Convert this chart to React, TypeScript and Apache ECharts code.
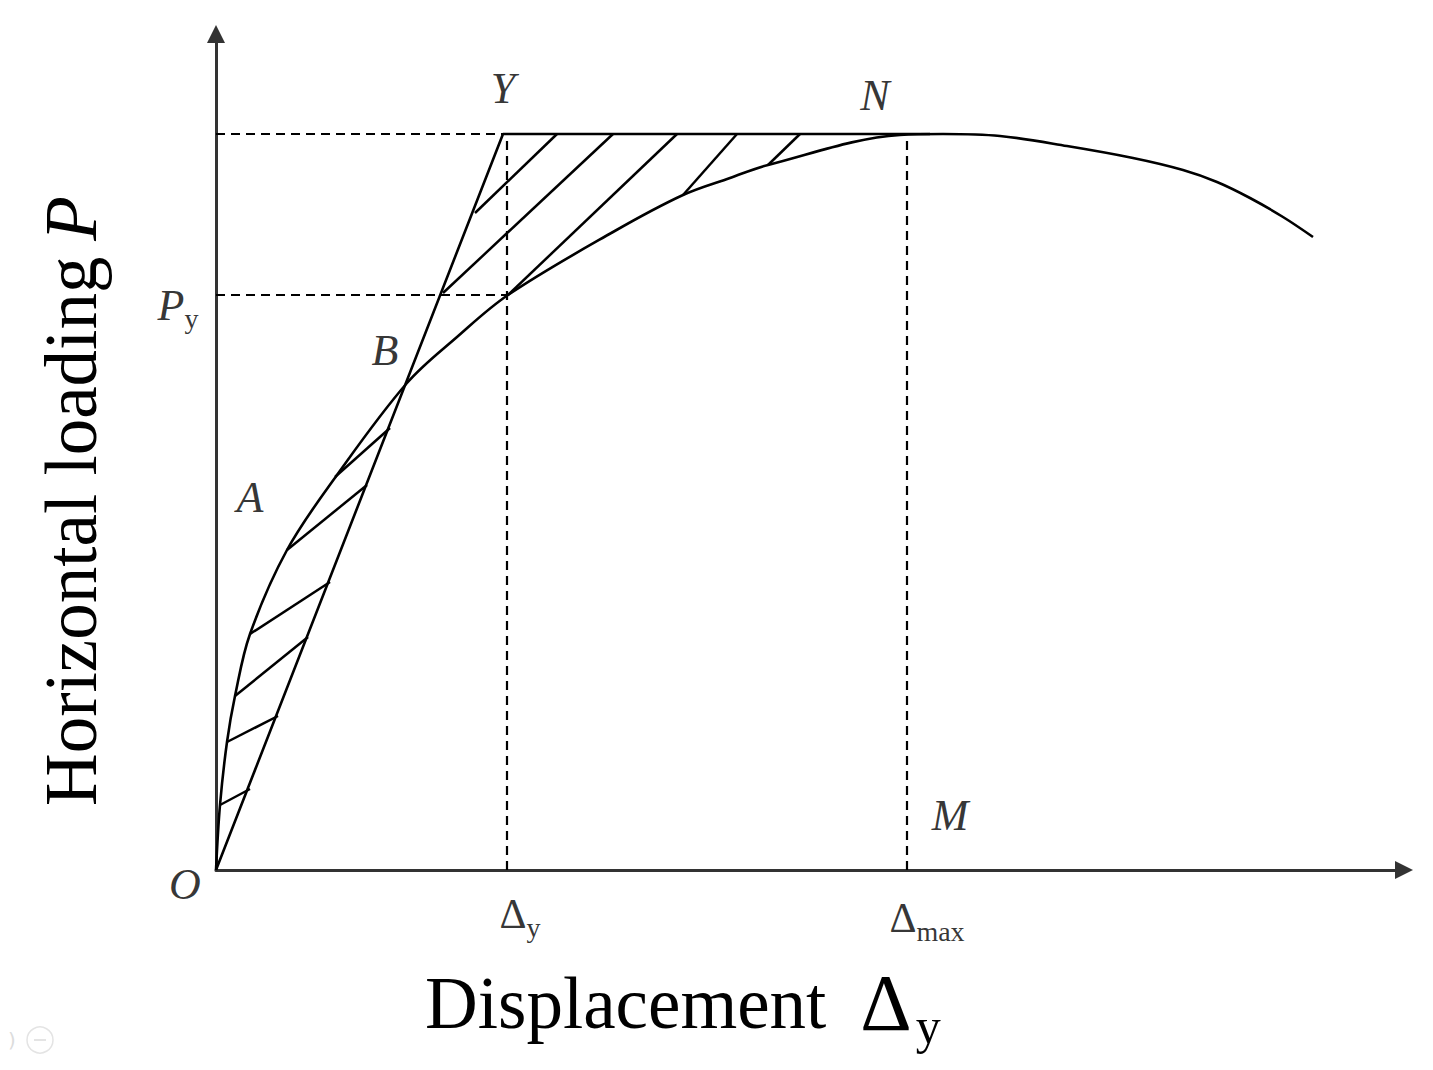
import React, { useEffect, useRef } from "react";
import * as echarts from "echarts";

// ---- data (schematic units: displacement along x, load along y) ----
const curveX = [0, 4, 11, 19, 34, 71, 121, 191, 241, 292, 397, 467, 514, 552, 684, 727, 784, 851, 917, 967, 1001, 1034, 1067, 1097];
const curveY = [0, 65, 128, 174, 236, 320, 395, 487, 533, 575, 638, 675, 692, 705, 735, 736, 734, 724, 712, 700, 688, 672, 653, 633];

// idealised bilinear line O -> Y -> N
const idealX = [0, 287, 714];
const idealY = [0, 736, 736];

const peakLoad = 736;
const yieldLoad = 575;
const yPointDisp = 287;
const yieldDisp = 291;
const maxDisp = 691;

// hatch segments [x1, y1, x2, y2]
const hatchLower = [
  [4, 65, 34, 81],
  [11, 128, 62, 154],
  [19, 174, 92, 233],
  [34, 236, 114, 288],
  [71, 320, 151, 385],
  [119, 393, 174, 442],
];
const hatchUpper = [
  [259, 657, 341, 736],
  [227, 577, 397, 736],
  [292, 575, 461, 736],
  [467, 675, 521, 736],
  [552, 705, 584, 736],
];

// point annotations
const labelTexts = ["{it|Y}", "{it|N}", "{it|B}", "{it|A}", "{it|O}", "{it|M}", "{it|P}{sub|y}", "{up|Δ}{sub|y}", "{up|Δ}{sub|max}"];
const labelAnchors = [
  [287, 736],
  [691, 736],
  [191, 487],
  [71, 320],
  [0, 0],
  [691, 0],
  [0, 575],
  [291, 0],
  [691, 0],
];

const xTitle = "Displacement";
const yTitle = "Horizontal loading";

// ---- styles ----
const FONT = '"Liberation Serif", "Times New Roman", serif';
const labelOffsets = [
  [0, -46],
  [-32, -39],
  [-22, -33],
  [-37, -53],
  [-31, 14],
  [43, -55],
  [-38, 10],
  [13, 44],
  [20, 48],
];

export default function App() {
  const ref = useRef<HTMLDivElement>(null);
  useEffect(() => {
    const chart = echarts.init(ref.current!, undefined, { renderer: "svg" });
    const seg = (s: number[]) => ({ coords: [[s[0], s[1]], [s[2], s[3]]] });
    const dashed = [
      [0, peakLoad, yPointDisp, peakLoad],
      [0, yieldLoad, yieldDisp, yieldLoad],
      [yieldDisp, 0, yieldDisp, peakLoad],
      [maxDisp, 0, maxDisp, peakLoad],
    ];
    const rich = {
      it: { fontFamily: FONT, fontStyle: "italic", fontSize: 44, color: "#000" },
      up: { fontFamily: FONT, fontSize: 42, color: "#000" },
      sub: { fontFamily: FONT, fontSize: 28, color: "#000", padding: [26, 0, 0, 0] },
    };
    const option = {
      animation: false,
      backgroundColor: "#fff",
      grid: { left: 216, right: 29, top: 34, bottom: 200 },
      xAxis: {
        type: "value",
        min: 0,
        max: 1188,
        axisLine: {
          show: true,
          symbol: ["none", "triangle"],
          symbolSize: [18, 18],
          lineStyle: { color: "#333", width: 3 },
        },
        axisTick: { show: false },
        axisLabel: { show: false },
        splitLine: { show: false },
      },
      yAxis: {
        type: "value",
        min: 0,
        max: 836,
        axisLine: {
          show: true,
          symbol: ["none", "triangle"],
          symbolSize: [18, 18],
          lineStyle: { color: "#333", width: 3 },
        },
        axisTick: { show: false },
        axisLabel: { show: false },
        splitLine: { show: false },
      },
      series: [
        {
          type: "line",
          silent: true,
          data: curveX.map((x, i) => [x, curveY[i]]),
          smooth: 0.35,
          symbol: "none",
          lineStyle: { color: "#000", width: 2.6 },
        },
        {
          type: "line",
          silent: true,
          data: idealX.map((x, i) => [x, idealY[i]]),
          symbol: "none",
          lineStyle: { color: "#000", width: 2.6 },
        },
        {
          type: "lines",
          coordinateSystem: "cartesian2d",
          silent: true,
          data: dashed.map(seg),
          lineStyle: { color: "#000", width: 2.2, type: [9, 6], opacity: 1 },
        },
        {
          type: "lines",
          coordinateSystem: "cartesian2d",
          silent: true,
          data: hatchLower.concat(hatchUpper).map(seg),
          lineStyle: { color: "#000", width: 2.5, opacity: 1 },
        },
        {
          type: "scatter",
          silent: true,
          symbolSize: 1,
          itemStyle: { color: "rgba(0,0,0,0)" },
          data: labelAnchors.map((a, i) => ({
            value: a,
            label: {
              show: true,
              position: "inside",
              formatter: labelTexts[i],
              offset: labelOffsets[i],
              rich,
            },
          })),
        },
      ],
      graphic: [
        {
          type: "text",
          x: 425,
          y: 1003,
          style: {
            text: `{t|${xTitle}}{d|Δ}{s|y}`,
            align: "left",
            verticalAlign: "middle",
            rich: {
              t: { fontFamily: FONT, fontSize: 73, fill: "#000" },
              d: { fontFamily: FONT, fontSize: 80, fill: "#000", padding: [0, 0, 0, 34] },
              s: { fontFamily: FONT, fontSize: 50, fill: "#000", padding: [46, 0, 0, 4] },
            },
          },
        },
        {
          type: "text",
          x: 71,
          y: 806,
          rotation: Math.PI / 2,
          style: {
            text: `{t|${yTitle}}{p|P}`,
            align: "left",
            verticalAlign: "middle",
            rich: {
              t: { fontFamily: FONT, fontSize: 73, fill: "#000" },
              p: { fontFamily: FONT, fontStyle: "italic", fontSize: 73, fill: "#000", padding: [0, 0, 0, 16] },
            },
          },
        },
        {
          type: "text",
          x: 12,
          y: 1040,
          style: { text: ")", fontSize: 20, fill: "#dcdcdc", align: "center", verticalAlign: "middle", fontFamily: "DejaVu Sans" },
        },
        {
          type: "circle",
          shape: { cx: 40, cy: 1040, r: 13 },
          style: { fill: "none", stroke: "#e4e4e4", lineWidth: 1.5 },
        },
        {
          type: "line",
          shape: { x1: 34, y1: 1040, x2: 46, y2: 1040 },
          style: { stroke: "#e4e4e4", lineWidth: 2 },
        },
      ],
    };
    chart.setOption(option as any);
    return () => chart.dispose();
  }, []);
  return (
    <div
      ref={ref}
      style={{ position: "absolute", left: 0, top: 0, width: 1433, height: 1070, background: "#fff" }}
    />
  );
}
